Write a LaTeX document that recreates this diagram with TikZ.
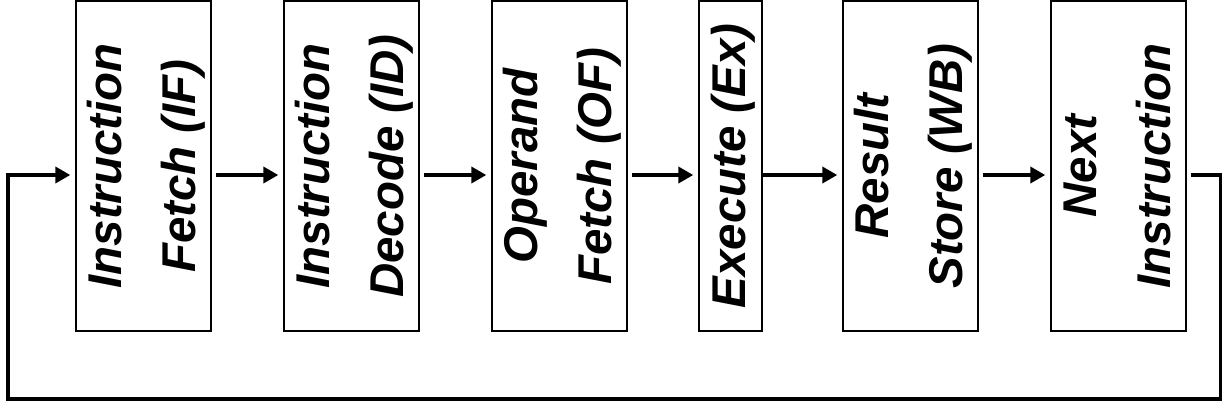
\documentclass[tikz,border=0pt]{standalone}
\usepackage{fontspec}
\setmainfont{Liberation Sans}
\usetikzlibrary{arrows.meta,positioning}
\tikzset{
  stage/.style={rectangle, draw=black, line width=1pt, minimum height=165pt, minimum width=67.5pt, inner sep=0pt},
  stagetext/.style={rotate=90, align=center, inner sep=0pt, font=\fontsize{23.7}{37}\selectfont\bfseries\itshape},
  flow/.style={-{Triangle[length=7.5pt,width=8pt]}, line width=2pt, shorten <=2pt, shorten >=2.5pt},
}
\begin{document}
\begin{tikzpicture}[x=0.5pt, y=-0.5pt, node distance=35.5pt]
\useasboundingbox (0,0) rectangle (1222,409);

% Pipeline stages
\node[stage] (IF) at (143.8,166) {};
\node[stage, right=of IF] (ID) {};
\node[stage, right=of ID] (OF) {};
\node[stage, minimum width=31.5pt, right=35pt of OF] (EX) {};
\node[stage, right=39.5pt of EX] (WB) {};
\node[stage, right=of WB] (NI) {};

% Stage labels
\node[stagetext] (IFt) at (IF) {\strut Instruction\\\strut Fetch (IF)};
\node[stagetext] (IDt) at (ID) {\strut Instruction\\\strut Decode (ID)};
\node[stagetext] (OFt) at (OF) {\strut Operand\\\strut Fetch (OF)};
\node[stagetext] (EXt) at (EX) {\strut Execute (Ex)};
\node[stagetext] (WBt) at (WB) {\strut Result\\\strut Store (WB)};
\node[stagetext] (NIt) at (NI) {\strut Next\\\strut Instruction};

% Arrows
\coordinate (axis) at (0,175);
\draw[flow] (IF.east |- axis) -- (ID.west |- axis);
\draw[flow] (ID.east |- axis) -- (OF.west |- axis);
\draw[flow] (OF.east |- axis) -- (EX.west |- axis);
\draw[flow, shorten <=0pt] (EX.east |- axis) -- (WB.west |- axis);
\draw[flow] (WB.east |- axis) -- (NI.west |- axis);

% Loop back
\coordinate (loopR) at (1221,399);
\coordinate (loopL) at (8,399);
\draw[flow] (NI.east |- axis) -| (loopR) -- (loopL) |- (IF.west |- axis);

\end{tikzpicture}
\end{document}
